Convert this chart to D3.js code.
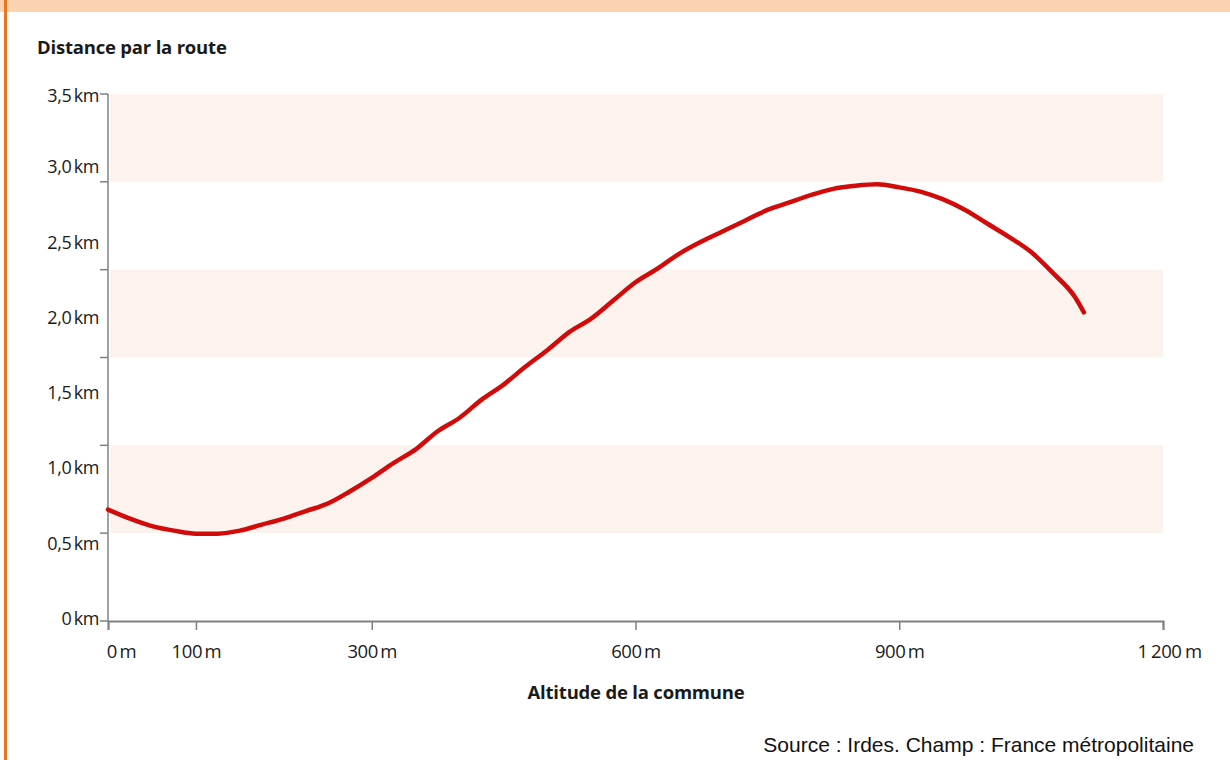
<!DOCTYPE html>
<html lang="fr">
<head>
<meta charset="utf-8">
<script src="https://cdn.jsdelivr.net/npm/d3@7"></script>
<style>
  html, body { margin: 0; padding: 0; background: #fff; }
  svg { display: block; }
</style>
</head>
<body>
<div id="chart"></div>
<script>
// altitude de la commune (m)
const altitudes = [0, 25, 50, 75, 100, 125, 150, 175, 200, 225, 250, 275, 300, 325, 350, 375, 400,
  425, 450, 475, 500, 525, 550, 575, 600, 625, 650, 675, 700, 725, 750, 775, 800, 825, 850, 875,
  900, 925, 950, 975, 1000, 1025, 1050, 1075, 1100, 1110];
// distance par la route (km)
const distances = [0.74, 0.68, 0.63, 0.60, 0.58, 0.58, 0.60, 0.64, 0.68, 0.73, 0.78, 0.86, 0.95,
  1.05, 1.14, 1.26, 1.35, 1.47, 1.57, 1.69, 1.80, 1.92, 2.01, 2.13, 2.25, 2.34, 2.44, 2.52, 2.59,
  2.66, 2.73, 2.78, 2.83, 2.87, 2.89, 2.90, 2.88, 2.85, 2.80, 2.73, 2.64, 2.55, 2.45, 2.31, 2.15, 2.05];

const xTicks = [0, 100, 300, 600, 900, 1200];
const xTickLabels = ["0 m", "100 m", "300 m", "600 m", "900 m", "1 200 m"];
const yTicks = [0, 0.5, 1, 1.5, 2, 2.5, 3, 3.5];
const yTickLabels = ["0 km", "0,5 km", "1,0 km", "1,5 km", "2,0 km", "2,5 km", "3,0 km", "3,5 km"];
// graduations de l'axe et bandes (6 intervalles)
const gridSteps = [0, 1, 2, 3, 4, 5, 6];
const bandSteps = [1, 3, 5];

const width = 1230;
const height = 760;
const font = "'Open Sans', sans-serif";

const svg = d3.select("#chart")
  .append("svg")
  .attr("width", width)
  .attr("height", height);

// cadre
svg.append("rect").attr("x", 0).attr("y", 0).attr("width", width).attr("height", 12).attr("fill", "#fbd3b0");
svg.append("rect").attr("x", 4).attr("y", 0).attr("width", 3).attr("height", height).attr("fill", "#e8771f");

const x = d3.scaleLinear().domain([0, 1200]).range([108, 1163]);
const y = d3.scaleLinear().domain([0, 3.5]).range([621, 94]);
const g = d3.scaleLinear().domain([0, 6]).range([621, 94]);

// bandes
svg.selectAll(".band")
  .data(bandSteps)
  .enter()
  .append("rect")
  .attr("class", "band")
  .attr("x", x(0) + 2)
  .attr("width", x(1200) - x(0) - 2)
  .attr("y", d => g(d + 1))
  .attr("height", d => g(d) - g(d + 1))
  .attr("fill", "#fcf3ee");

// axe y
svg.append("line")
  .attr("x1", x(0)).attr("x2", x(0))
  .attr("y1", g(6)).attr("y2", g(0))
  .attr("stroke", "#808080").attr("stroke-width", 1.5);

svg.selectAll(".ytick")
  .data(gridSteps)
  .enter()
  .append("line")
  .attr("x1", x(0) - 8).attr("x2", x(0))
  .attr("y1", d => g(d)).attr("y2", d => g(d))
  .attr("stroke", "#808080").attr("stroke-width", 1.5);

svg.selectAll(".ylabel")
  .data(yTicks)
  .enter()
  .append("text")
  .attr("x", 99)
  .attr("y", d => y(d) + (d == 3.5 ? 8 : 4))
  .attr("text-anchor", "end")
  .attr("font-family", font)
  .attr("font-size", "18px")
  .attr("letter-spacing", "-0.4px")
  .attr("word-spacing", "-2px")
  .attr("fill", "#1a1a1a")
  .text((d, i) => yTickLabels[i]);

// axe x
const xAxis = svg.append("g")
  .attr("transform", `translate(0,${y(0)})`)
  .call(d3.axisBottom(x).tickValues(xTicks).tickSize(9).tickFormat((d, i) => xTickLabels[i]));

xAxis.select(".domain").attr("stroke", "#808080").attr("stroke-width", 2);
xAxis.selectAll(".tick line").attr("stroke", "#808080").attr("stroke-width", 1.5);
xAxis.selectAll(".tick text")
  .attr("y", 37)
  .attr("dy", null)
  .attr("dx", (d, i) => i == 0 ? 13 : (i == 5 ? 6 : 0))
  .attr("font-family", font)
  .attr("font-size", "18.5px")
  .attr("letter-spacing", "-0.4px")
  .attr("word-spacing", (d, i) => i == 5 ? "-1px" : "-2px")
  .attr("fill", "#1a1a1a");

// courbe
const line = d3.line()
  .x((d, i) => x(altitudes[i]))
  .y(d => y(d))
  .curve(d3.curveMonotoneX);

svg.append("path")
  .datum(distances)
  .attr("d", line)
  .attr("fill", "none")
  .attr("stroke", "#d10a0a")
  .attr("stroke-width", 4.5)
  .attr("stroke-linejoin", "round")
  .attr("stroke-linecap", "round");

// titres
svg.append("text")
  .attr("x", 37).attr("y", 54)
  .attr("font-family", font)
  .attr("font-weight", "bold")
  .attr("font-size", "18.5px")
  .attr("letter-spacing", "-0.2px")
  .attr("fill", "#1a1a1a")
  .text("Distance par la route");

svg.append("text")
  .attr("x", 636).attr("y", 699)
  .attr("text-anchor", "middle")
  .attr("font-family", font)
  .attr("font-weight", "bold")
  .attr("font-size", "18.5px")
  .attr("letter-spacing", "-0.2px")
  .attr("fill", "#1a1a1a")
  .text("Altitude de la commune");

svg.append("text")
  .attr("x", 1194).attr("y", 752)
  .attr("text-anchor", "end")
  .attr("font-family", "'Liberation Sans', Arial, sans-serif")
  .attr("font-size", "21px")
  .attr("fill", "#111")
  .text("Source : Irdes. Champ : France métropolitaine");
</script>
</body>
</html>
